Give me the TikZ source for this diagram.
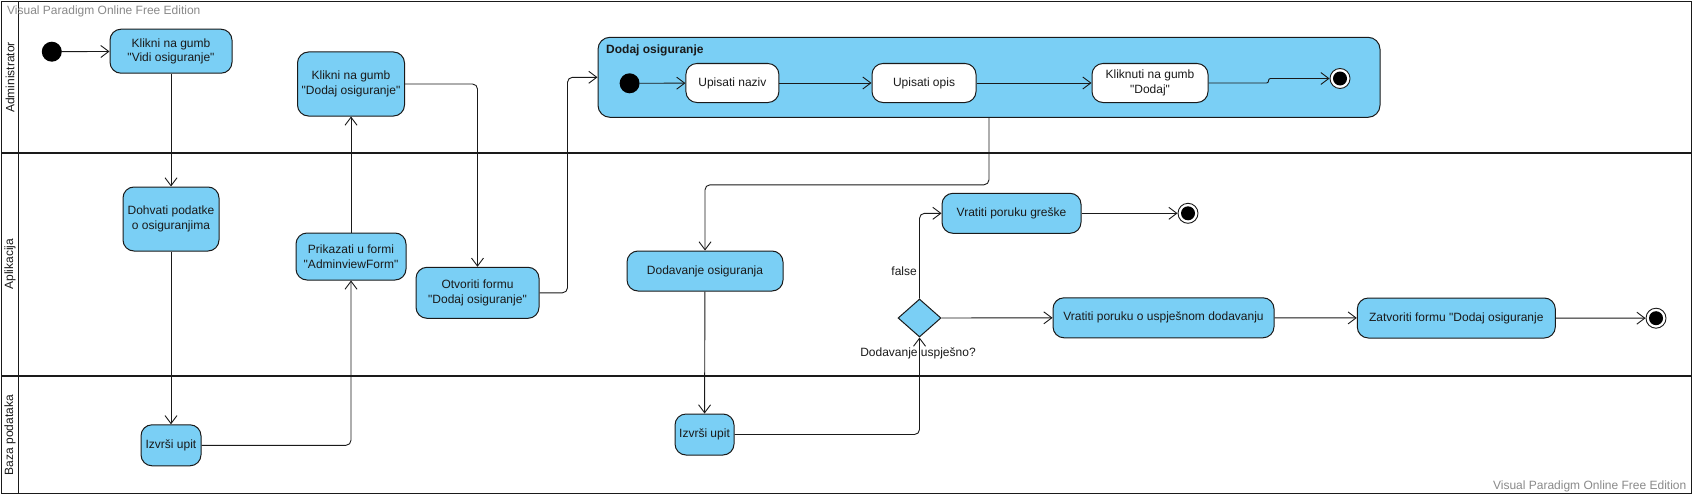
\documentclass[tikz,border=0pt]{standalone}
\usepackage{fontspec}
\setmainfont{Liberation Sans}[Ligatures=TeXOff]
\usetikzlibrary{arrows.meta,shapes.geometric,calc}
\definecolor{vpblue}{HTML}{7ACFF5}
\definecolor{vpline}{HTML}{1A1A1A}
\definecolor{wmgray}{HTML}{8A8A8A}
\tikzset{
  act/.style={rectangle, rounded corners=11pt, draw=vpline, fill=vpblue, line width=1pt,
    align=center, inner sep=0pt, font=\fontsize{12pt}{14.5pt}\selectfont, text=vpline},
  subact/.style={act, fill=white},
  grp/.style={rectangle, rounded corners=12pt, draw=vpline, fill=vpblue, line width=1pt, inner sep=0pt},
  startnode/.style={circle, fill=black, minimum size=20pt, inner sep=0pt},
  endnode/.style={circle, draw=vpline, fill=white, line width=0.9pt, minimum size=20pt, inner sep=0pt,
    path picture={\fill[black] (path picture bounding box.center) circle (7pt);}},
  decision/.style={diamond, draw=vpline, fill=vpblue, line width=1pt, minimum width=43pt, minimum height=38pt, inner sep=0pt},
  flow/.style={draw=vpline, line width=0.9pt, rounded corners=5pt, -{Straight Barb[length=8pt,width=12pt,line width=0.9pt]}},
  lbl/.style={font=\fontsize{12pt}{14pt}\selectfont, text=vpline, inner sep=0pt},
  lanelbl/.style={font=\fontsize{12pt}{14pt}\selectfont, text=vpline, rotate=90, inner sep=0pt},
  wm/.style={font=\fontsize{12pt}{14pt}\selectfont, text=wmgray, inner sep=0pt},
}
\begin{document}
\begin{tikzpicture}[x=1pt,y=-1pt]
\useasboundingbox (0,0) rectangle (1693,495);
\fill[white] (0,0) rectangle (1693,495);
% frame and lanes
\draw[vpline, line width=1.4pt] (1.5,1.5) rectangle (1691.5,493.5);
\draw[vpline, line width=1.8pt] (18.5,1.5) -- (18.5,493.5);
\draw[vpline, line width=2pt] (1.5,153.3) -- (1691.5,153.3);
\draw[vpline, line width=2pt] (1.5,375.5) -- (1691.5,375.5);
\node[lanelbl] (ladmin) at (10,77.5) {Administrator};
\node[lanelbl] (lapp) at (10,264) {Aplikacija};
\node[lanelbl] (ldb) at (10,435) {Baza podataka};
\node[wm, anchor=west] (wm1) at (7,11.5) {Visual Paradigm Online Free Edition};
\node[wm, anchor=east] (wm2) at (1686.5,486) {Visual Paradigm Online Free Edition};

% group
\node[grp, minimum width=782pt, minimum height=80pt] (grp) at (989,77.3) {};
\node[lbl, anchor=west, font=\fontsize{12pt}{14pt}\selectfont\bfseries] (grptitle) at (606,50.7) {Dodaj osiguranje};

% nodes
\node[startnode] (start) at (51.8,51.7) {};
\node[act, minimum width=122pt, minimum height=44pt] (vidi) at (171,51.2) {Klikni na gumb\\"Vidi osiguranje"};
\node[act, minimum width=107pt, minimum height=64pt] (dodajbtn) at (351,84) {Klikni na gumb\\"Dodaj osiguranje"};
\node[act, minimum width=96pt, minimum height=64pt] (dohvati) at (171,219) {Dohvati podatke\\o osiguranjima};
\node[act, minimum width=110pt, minimum height=47pt] (prikazati) at (351,256.5) {Prikazati u formi\\"AdminviewForm"};
\node[act, minimum width=123pt, minimum height=51pt] (otvoriti) at (477.5,292.8) {Otvoriti formu\\"Dodaj osiguranje"};
\node[act, minimum width=60pt, minimum height=41pt] (izvrsi1) at (171,445.3) {Izvrši upit};

\node[startnode] (istart) at (629.6,83.3) {};
\node[subact, minimum width=93pt, minimum height=39pt] (naziv) at (732.4,83) {Upisati naziv};
\node[subact, minimum width=104pt, minimum height=39pt] (opis) at (924,83) {Upisati opis};
\node[subact, minimum width=116pt, minimum height=39pt] (kliknuti) at (1150,83) {Kliknuti na gumb\\"Dodaj"};
\node[endnode] (iend) at (1340,78.5) {};

\node[act, minimum width=156pt, minimum height=40pt] (dodavanje) at (705,271) {Dodavanje osiguranja};
\node[act, minimum width=59pt, minimum height=41pt] (izvrsi2) at (704.5,434.5) {Izvrši upit};
\node[decision] (dia) at (919.5,318) {};
\node[act, minimum width=139pt, minimum height=40pt] (greske) at (1011.5,213.3) {Vratiti poruku greške};
\node[endnode] (end1) at (1188,213.3) {};
\node[act, minimum width=221pt, minimum height=40pt] (uspjesno) at (1163.5,317.8) {Vratiti poruku o uspješnom dodavanju};
\node[act, minimum width=198pt, minimum height=40pt] (zatvoriti) at (1456.3,318) {Zatvoriti formu "Dodaj osiguranje};
\node[endnode] (end2) at (1656,318.2) {};

\node[lbl, anchor=east] (lfalse) at (917,271.5) {false};
\node[lbl] (lq) at (918,353.3) {Dodavanje uspješno?};

% flows
\draw[flow] (start) -- (vidi);
\draw[flow] (vidi) -- (dohvati);
\draw[flow] (dohvati) -- (izvrsi1);
\draw[flow] (izvrsi1.east) -| (prikazati.south);
\draw[flow] (prikazati) -- (dodajbtn);
\draw[flow] (dodajbtn.east) -| (otvoriti.north);
\draw[flow] (otvoriti.east) -| ([xshift=-30pt]grp.west) -- (grp.west);
\draw[flow] (istart) -- (naziv);
\draw[flow] (naziv) -- (opis);
\draw[flow] (opis) -- (kliknuti);
\draw[flow, rounded corners=2pt] (kliknuti.east) -- ++(60,0) |- (iend.west);
\draw[flow] (grp.south) -- ++(0,67) -| (dodavanje.north);
\draw[flow] (dodavanje) -- (izvrsi2);
\draw[flow] (izvrsi2.east) -| (dia.south);
\draw[flow] (dia.north) |- (greske.west);
\draw[flow] (greske) -- (end1);
\draw[flow] (dia.east) -- (uspjesno.west);
\draw[flow] (uspjesno) -- (zatvoriti);
\draw[flow] (zatvoriti) -- (end2);
\end{tikzpicture}
\end{document}
